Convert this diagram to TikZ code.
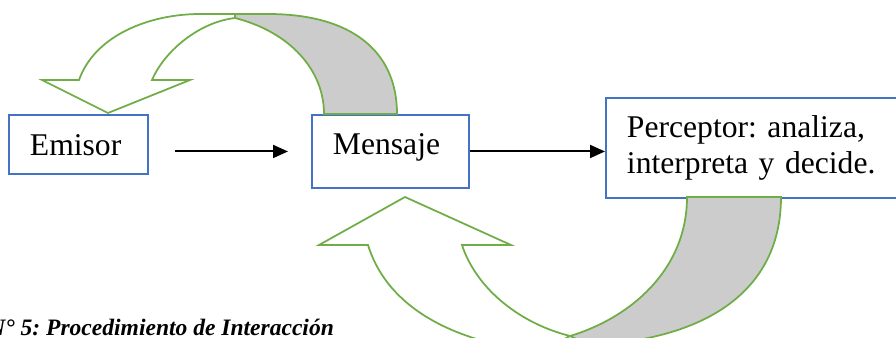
\documentclass[tikz,border=0pt]{standalone}
\usepackage{fontspec}
\setmainfont{Liberation Serif}
\usetikzlibrary{arrows.meta}
\definecolor{boxblue}{HTML}{4472C4}
\definecolor{arcgreen}{HTML}{70AD47}
\definecolor{backgray}{HTML}{CCCCCC}
\tikzset{
  box/.style={
    draw=boxblue, line width=1.1pt, fill=white,
    anchor=north west, inner xsep=0.42cm, inner ysep=0pt,
    align=left, font=\fontsize{18}{20.4}\selectfont\frenchspacing
  },
  frontface/.style={draw=arcgreen, line width=1pt, fill=white},
  backface/.style={draw=arcgreen, line width=1pt, fill=backgray},
  arrow/.style={-{Triangle[length=0.3cm, width=0.26cm]}, line width=1.1pt, black}
}

\begin{document}
\begin{tikzpicture}[x=0.02cm, y=-0.02cm]
  \useasboundingbox (0,0) rectangle (896,338);
  \clip (0,0) rectangle (896,338);

  \node[box, text width=1.94cm, text height=0.82cm, text depth=0.36cm]
        (emisor) at (8,114) {Emisor};
  \node[box, text width=2.30cm, text height=0.80cm, text depth=0.66cm]
        (mensaje) at (311,114) {Mensaje};
  \node[box, text width=5.56cm, minimum height=2cm]
        (perceptor) at (605,97) {Perceptor: analiza,\\interpreta y decide.};

  \draw[arrow, shorten <=0.52cm, shorten >=0.46cm]
        (emisor.east |- mensaje.east) -- (mensaje.west);
  \draw[arrow] (mensaje.east) -- (mensaje.east -| perceptor.west);

  % curved arrow back from Mensaje to Emisor
  \draw[backface] (235,18) .. controls (290,32) and (324,70) .. (324,114)
        -- (397,114) .. controls (397,50) and (350,14) .. (268,14)
        -- (235,14) -- cycle;
  \draw[frontface] (108,113) -- (42,80) -- (79,80)
        .. controls (95,35) and (150,14) .. (200,14) -- (235,14) -- (235,18)
        .. controls (200,22) and (165,50) .. (152,80) -- (190,80) -- cycle;

  % curved arrow back from Perceptor to Mensaje
  \draw[backface] (687,197) -- (781,197)
        .. controls (781,295) and (700,340) .. (590,345) -- (570,336)
        .. controls (630,318) and (687,270) .. (687,197) -- cycle;
  \draw[frontface] (405,197) -- (511,245) -- (462,245)
        .. controls (475,285) and (515,322) .. (570,336) -- (540,352)
        .. controls (440,340) and (385,300) .. (368,245) -- (319,245) -- cycle;

  \node[anchor=base west, inner sep=0pt,
        font=\fontsize{13.4}{15}\selectfont\bfseries\itshape\frenchspacing]
        (caption) at (-12,335) {N° 5: Procedimiento de Interacción};
\end{tikzpicture}
\end{document}
